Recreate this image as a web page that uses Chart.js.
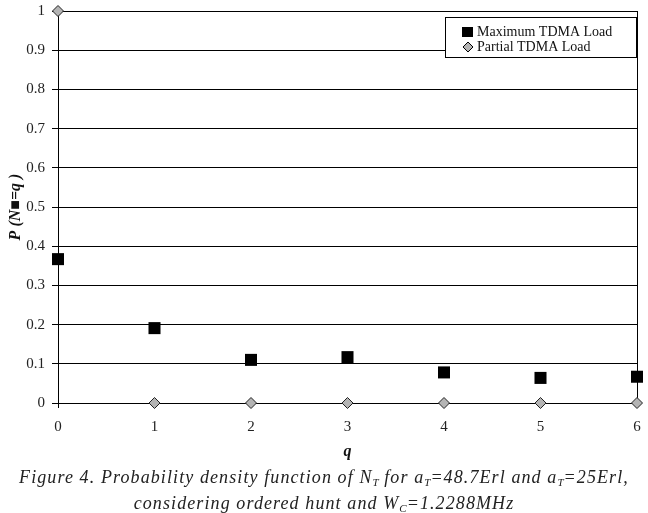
<!DOCTYPE html>
<html>
<head>
<meta charset="utf-8">
<script src="https://cdn.jsdelivr.net/npm/chart.js@4/dist/chart.umd.min.js"></script>
<style>
  html, body { margin: 0; padding: 0; background: #fff; }
  #wrap { position: relative; width: 648px; height: 513px; }
  #caption {
    position: absolute; left: 0; top: 467px; width: 648px;
    text-align: center; font-family: "Liberation Serif", serif; font-style: italic;
    font-size: 18px; line-height: 21px; letter-spacing: 1.1px; color: #222;
  }
  #caption sub { font-size: 11px; vertical-align: -3px; letter-spacing: 0; }
</style>
</head>
<body>
<div id="wrap">
  <canvas id="chart" width="648" height="513"></canvas>
  <div id="caption">Figure 4. Probability density function of N<sub>T</sub> for a<sub>T</sub>=48.7Erl and a<sub>T</sub>=25Erl,<br>considering ordered hunt and W<sub>C</sub>=1.2288MHz</div>
</div>
<script>
const qValues = [0, 1, 2, 3, 4, 5, 6];
const maxLoad = [0.367, 0.191, 0.11, 0.117, 0.078, 0.064, 0.067];
const partialLoad = [1, 0, 0, 0, 0, 0, 0];
const seriesNames = ["Maximum TDMA Load", "Partial TDMA Load"];

const serif = "'Liberation Serif', 'Times New Roman', serif";

// small legend box in the top-right corner of the plot
const boxLegend = {
  id: "boxLegend",
  afterDraw(chart) {
    const c = chart.ctx;
    const area = chart.chartArea;
    const x1 = area.right, x0 = x1 - 192, y0 = area.top + 6, y1 = y0 + 41;
    c.save();
    c.fillStyle = "#fff";
    c.fillRect(x0, y0, x1 - x0, y1 - y0);
    c.strokeStyle = "#000";
    c.lineWidth = 1;
    c.strokeRect(x0 + 0.5, y0 + 0.5, x1 - x0 - 1, y1 - y0 - 1);
    c.font = "14px " + serif;
    c.textBaseline = "middle";
    // square
    c.fillStyle = "#000";
    c.fillRect(x0 + 17, y0 + 10, 11, 10);
    c.fillStyle = "#111";
    c.fillText(seriesNames[0], x0 + 32, y0 + 15);
    // diamond
    const dx = x0 + 23, dy = y0 + 30;
    c.beginPath();
    c.moveTo(dx, dy - 5); c.lineTo(dx + 5, dy); c.lineTo(dx, dy + 5); c.lineTo(dx - 5, dy);
    c.closePath();
    c.fillStyle = "#b4b4b4";
    c.fill();
    c.strokeStyle = "#000";
    c.stroke();
    c.fillStyle = "#111";
    c.fillText(seriesNames[1], x0 + 32, y0 + 30);
    c.restore();
  }
};

new Chart(document.getElementById("chart"), {
  type: "scatter",
  data: {
    datasets: [
      {
        label: seriesNames[0],
        data: qValues.map((q, i) => ({ x: q, y: maxLoad[i] })),
        pointStyle: "rect",
        pointRadius: 8.5,
        pointHoverRadius: 8.5,
        backgroundColor: "#000",
        borderColor: "#000",
        borderWidth: 0,
        clip: false,
      },
      {
        label: seriesNames[1],
        data: qValues.map((q, i) => ({ x: q, y: partialLoad[i] })),
        pointStyle: "rectRot",
        pointRadius: 5.5,
        pointHoverRadius: 5.5,
        backgroundColor: "#b4b4b4",
        borderColor: "#222",
        borderWidth: 1,
        clip: false,
      },
    ],
  },
  options: {
    responsive: false,
    animation: false,
    layout: { padding: { left: 0, right: 11, top: 11, bottom: 0 } },
    plugins: {
      legend: { display: false },
      tooltip: { enabled: false },
    },
    scales: {
      x: {
        type: "linear",
        min: 0,
        max: 6,
        afterFit: (s) => { s.height = 110; s.paddingLeft = 0; s.paddingRight = 0; },
        grid: {
          color: (ctx) => (ctx.tick && ctx.tick.value === 6 ? "#000" : "rgba(0,0,0,0)"),
          tickColor: (ctx) => (ctx.tick && ctx.tick.value === 0 ? "#000" : "rgba(0,0,0,0)"),
          tickLength: 5,
          lineWidth: 1,
        },
        border: { display: true, color: "#000" },
        ticks: {
          stepSize: 1,
          padding: 10,
          color: "#222",
          font: { family: serif, size: 15 },
        },
        title: {
          display: true,
          text: "q",
          color: "#111",
          font: { family: serif, size: 16, style: "italic", weight: "bold" },
          padding: { top: 0, bottom: 52 },
        },
      },
      y: {
        min: 0,
        max: 1,
        afterFit: (s) => { s.width = 58; s.paddingTop = 0; s.paddingBottom = 0; },
        grid: { color: "#000", tickLength: 6, lineWidth: 1 },
        border: { display: true, color: "#000" },
        ticks: {
          stepSize: 0.1,
          padding: 7,
          color: "#222",
          font: { family: serif, size: 15 },
          callback: (v) => String(Math.round(v * 10) / 10),
        },
        title: {
          display: true,
          text: "P (N\u25A0=q )",
          color: "#111",
          font: { family: serif, size: 16, style: "italic", weight: "bold" },
          padding: { top: 6, bottom: 0 },
        },
      },
    },
  },
  plugins: [boxLegend],
});
</script>
</body>
</html>
